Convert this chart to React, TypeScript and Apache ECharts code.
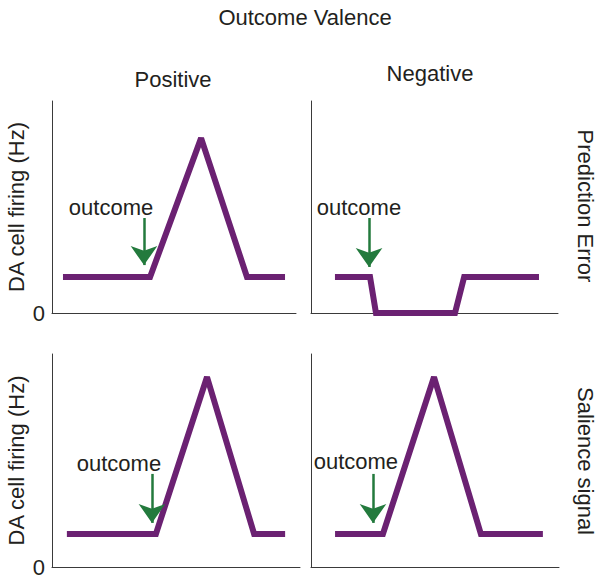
import React, { useEffect, useRef } from "react";
import * as echarts from "echarts";

const supTitle = "Outcome Valence";
const columnTitles = ["Positive", "Negative"];
const rowTitles = ["Prediction Error", "Salience signal"];
const yAxisName = "DA cell firing (Hz)";
const cueLabel = "outcome";
const zeroTick = "0";

// time (arbitrary units, 0-100) and firing rate (Hz, 0-10) for each panel
const posPETime = [4.5, 40.2, 61.1, 79.9, 95.5];
const posPERate = [1.7, 1.7, 8.25, 1.7, 1.7];
const negPETime = [9.7, 23.9, 26.3, 58.3, 62.0, 92.3];
const negPERate = [1.7, 1.7, 0, 0, 1.7, 1.7];
const posSalTime = [6.0, 41.9, 62.5, 81.5, 94.0];
const posSalRate = [1.55, 1.55, 8.92, 1.55, 1.55];
const negSalTime = [9.7, 29.0, 49.6, 68.5, 93.5];
const negSalRate = [1.55, 1.55, 8.92, 1.55, 1.55];

// outcome arrow per panel (TL, TR, BL, BR)
const outcomeTime = [37.7, 23.5, 40.3, 25.0];
const arrowTopRate = [4.48, 4.48, 4.37, 4.37];
const arrowTipRate = [2.26, 2.17, 2.07, 2.07];
const labelTime = [24.2, 19.4, 27.0, 18.1];
const labelRate = [5.0, 5.0, 4.84, 4.93];

const PURPLE = "#6b2172";
const GREEN = "#237a3d";
const AXIS = "#3a3a3a";
const TEXT = "#231f20";
const FONT = "'Liberation Sans', Arial, Helvetica, sans-serif";

const grids = [
  { left: 52, top: 101, width: 244, height: 212 },
  { left: 311, top: 101, width: 247, height: 212 },
  { left: 52, top: 354, width: 248, height: 213 },
  { left: 311, top: 354, width: 248, height: 213 },
];

const panels = [
  [posPETime, posPERate],
  [negPETime, negPERate],
  [posSalTime, posSalRate],
  [negSalTime, negSalRate],
];

export default function App() {
  const ref = useRef<HTMLDivElement>(null);
  useEffect(() => {
    if (!ref.current) return;
    const chart = echarts.init(ref.current, null, { renderer: "svg" });
    const option: any = {
      animation: false,
      grid: grids.map((g) => ({ ...g, containLabel: false })),
      xAxis: grids.map((_, i) => ({
        type: "value",
        gridIndex: i,
        min: 0,
        max: 100,
        axisLine: { show: true, onZero: false, lineStyle: { color: AXIS, width: 1 } },
        axisTick: { show: false },
        axisLabel: { show: false },
        splitLine: { show: false },
      })),
      yAxis: grids.map((_, i) => ({
        type: "value",
        gridIndex: i,
        min: 0,
        max: 10,
        interval: 10,
        axisLine: { show: true, onZero: false, lineStyle: { color: AXIS, width: 1 } },
        axisTick: { show: false },
        axisLabel: {
          show: i % 2 === 0,
          formatter: (v: number) => (v === 0 ? zeroTick : ""),
          fontSize: 22,
          color: TEXT,
          fontFamily: FONT,
          margin: 7,
        },
        splitLine: { show: false },
        name: i % 2 === 0 ? yAxisName : "",
        nameLocation: "middle",
        nameRotate: 90,
        nameGap: 25,
        nameTextStyle: { fontSize: 22, color: TEXT, fontFamily: FONT },
      })),
      series: panels.map(([t, r], i) => ({
        type: "line",
        xAxisIndex: i,
        yAxisIndex: i,
        data: t.map((x, k) => [x, r[k]]),
        symbol: "none",
        showSymbol: false,
        clip: false,
        silent: true,
        lineStyle: { color: PURPLE, width: 6, join: "miter", miterLimit: 2 },
        markLine: {
          silent: true,
          symbol: ["none", "arrow"],
          symbolSize: [20, 19],
          lineStyle: { color: GREEN, width: 2.5, type: "solid" },
          label: { show: false },
          emphasis: { disabled: true },
          data: [
            [
              { coord: [outcomeTime[i], arrowTopRate[i]] },
              { coord: [outcomeTime[i], arrowTipRate[i]] },
            ],
          ],
        },
        markPoint: {
          silent: true,
          symbol: "circle",
          symbolSize: 1,
          itemStyle: { color: "rgba(0,0,0,0)" },
          label: {
            show: true,
            position: "inside",
            formatter: cueLabel,
            fontSize: 22,
            color: TEXT,
            fontFamily: FONT,
          },
          data: [{ coord: [labelTime[i], labelRate[i]] }],
        },
      })),
      graphic: [
        {
          type: "text",
          x: 305,
          y: 17,
          style: { text: supTitle, fontSize: 22, fill: TEXT, fontFamily: FONT, align: "center", verticalAlign: "middle" },
        },
        {
          type: "text",
          x: 173,
          y: 79,
          style: { text: columnTitles[0], fontSize: 22, fill: TEXT, fontFamily: FONT, align: "center", verticalAlign: "middle" },
        },
        {
          type: "text",
          x: 430,
          y: 73,
          style: { text: columnTitles[1], fontSize: 22, fill: TEXT, fontFamily: FONT, align: "center", verticalAlign: "middle" },
        },
        {
          type: "text",
          x: 585,
          y: 206,
          rotation: -Math.PI / 2,
          style: { text: rowTitles[0], fontSize: 22, fill: TEXT, fontFamily: FONT, align: "center", verticalAlign: "middle" },
        },
        {
          type: "text",
          x: 585,
          y: 461,
          rotation: -Math.PI / 2,
          style: { text: rowTitles[1], fontSize: 22, fill: TEXT, fontFamily: FONT, align: "center", verticalAlign: "middle" },
        },
      ],
    };
    chart.setOption(option);
    return () => chart.dispose();
  }, []);
  return (
    <div
      ref={ref}
      style={{ position: "fixed", left: 0, top: 0, width: 604, height: 585, background: "#ffffff" }}
    />
  );
}
